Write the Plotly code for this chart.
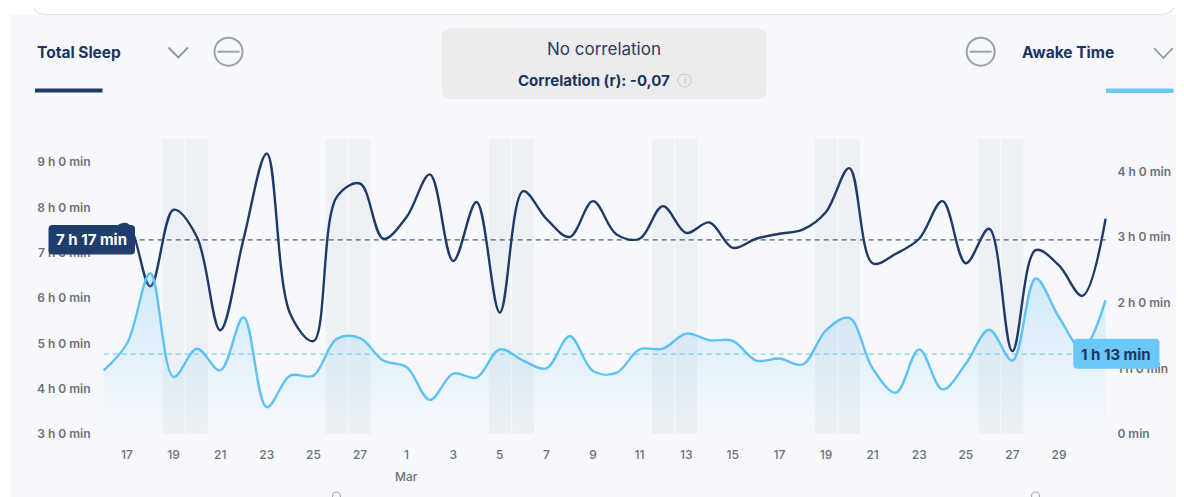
import plotly.graph_objects as go
import pandas as pd

PAGE_W, PAGE_H = 1184, 497
OFF = 8                      # browser body margin
W, H = PAGE_W - OFF, PAGE_H - OFF

# ---------------- data ----------------
dates = pd.date_range("2022-02-16", "2022-03-31", freq="D")

total_sleep_h = [7.35, 7.63, 6.26, 7.95, 7.35, 5.29, 7.30, 9.19, 5.66, 5.05,
                 8.23, 8.53, 7.31, 7.79, 8.73, 6.82, 8.12, 5.68, 8.36, 7.75,
                 7.35, 8.14, 7.41, 7.31, 8.03, 7.44, 7.67, 7.11, 7.31, 7.42,
                 7.51, 7.90, 8.87, 6.77, 6.98, 7.31, 8.14, 6.77, 7.53, 4.83,
                 7.06, 6.72, 6.05, 7.75]

awake_h = [0.97, 1.38, 2.45, 0.87, 1.30, 0.97, 1.78, 0.41, 0.89, 0.89,
           1.45, 1.46, 1.12, 1.02, 0.52, 0.92, 0.86, 1.29, 1.12, 1.00,
           1.49, 0.96, 0.93, 1.29, 1.30, 1.53, 1.43, 1.42, 1.12, 1.15,
           1.06, 1.58, 1.77, 1.00, 0.63, 1.29, 0.68, 1.07, 1.59, 1.12,
           2.37, 1.78, 1.30, 2.04]

weekend_days = ["2022-02-19", "2022-02-20", "2022-02-26", "2022-02-27",
                "2022-03-05", "2022-03-06", "2022-03-12", "2022-03-13",
                "2022-03-19", "2022-03-20", "2022-03-26", "2022-03-27"]

x_tick_dates = ["2022-02-17", "2022-02-19", "2022-02-21", "2022-02-23", "2022-02-25",
                "2022-02-27", "2022-03-01", "2022-03-03", "2022-03-05", "2022-03-07",
                "2022-03-09", "2022-03-11", "2022-03-13", "2022-03-15", "2022-03-17",
                "2022-03-19", "2022-03-21", "2022-03-23", "2022-03-25", "2022-03-27",
                "2022-03-29"]
x_tick_text = ["17", "19", "21", "23", "25", "27", "1", "3", "5", "7", "9",
               "11", "13", "15", "17", "19", "21", "23", "25", "27", "29"]

left_tick_vals = [3, 4, 5, 6, 7, 8, 9]
left_tick_text = ["3 h 0 min", "4 h 0 min", "5 h 0 min", "6 h 0 min",
                  "7 h 0 min", "8 h 0 min", "9 h 0 min"]
right_tick_vals = [0, 1, 2, 3, 4]
right_tick_text = ["0 min", "1 h 0 min", "2 h 0 min", "3 h 0 min", "4 h 0 min"]

mean_sleep_h = 7 + 17 / 60
mean_awake_h = 1 + 13 / 60
mean_sleep_label = "7 h 17 min"
mean_awake_label = "1 h 13 min"
correlation_text = "Correlation (r): -0,07"

# ---------------- styling / layout helpers (page pixel coords) ----------------
NAVY = "#1f3a68"
LIGHT = "#5ec2f6"
BG = "#f6f8fb"
TICK = "#6c7079"
FONT = "Inter"

PLOT_L, PLOT_R, PLOT_T, PLOT_B = 100, 1110, 139, 434
PW = PLOT_R - PLOT_L
PH = PLOT_B - PLOT_T
PX_PER_DAY = 23.3
PX_PER_H_L = 45.3
PX_PER_H_R = 65.6


def fx(x):
    return (x - PLOT_L) / PW


def fy(y):
    return (PLOT_B - y) / PH


def rrect(x0, y0, x1, y1, r):
    return (f"M{fx(x0 + r)},{fy(y0)} L{fx(x1 - r)},{fy(y0)} "
            f"Q{fx(x1)},{fy(y0)} {fx(x1)},{fy(y0 + r)} L{fx(x1)},{fy(y1 - r)} "
            f"Q{fx(x1)},{fy(y1)} {fx(x1 - r)},{fy(y1)} L{fx(x0 + r)},{fy(y1)} "
            f"Q{fx(x0)},{fy(y1)} {fx(x0)},{fy(y1 - r)} L{fx(x0)},{fy(y0 + r)} "
            f"Q{fx(x0)},{fy(y0)} {fx(x0 + r)},{fy(y0)} Z")


x_start = dates[0] - pd.Timedelta(days=3.7 / PX_PER_DAY)
x_end = x_start + pd.Timedelta(days=PW / PX_PER_DAY)
yl_range = [3, 3 + PH / PX_PER_H_L]
yr_range = [0, PH / PX_PER_H_R]

fig = go.Figure()

fig.add_trace(go.Scatter(
    x=dates, y=awake_h, yaxis="y2", mode="lines",
    line=dict(color=LIGHT, width=2.4, shape="spline", smoothing=1.0),
    fill="tozeroy",
    fillgradient=dict(type="vertical",
                      colorscale=[[0, "rgba(94,194,246,0.0)"],
                                  [1, "rgba(94,194,246,0.25)"]]),
    hoverinfo="skip", showlegend=False))

fig.add_trace(go.Scatter(
    x=dates, y=total_sleep_h, yaxis="y", mode="lines",
    line=dict(color=NAVY, width=2.4, shape="spline", smoothing=1.0),
    hoverinfo="skip", showlegend=False))

shapes = []
# weekend bands
for d in weekend_days:
    c = pd.Timestamp(d)
    shapes.append(dict(type="rect", xref="x", yref="paper",
                       x0=c - pd.Timedelta(hours=11.2), x1=c + pd.Timedelta(hours=11.2),
                       y0=0, y1=1, fillcolor="#edf0f4", line=dict(width=0), layer="below"))
# mean lines
shapes.append(dict(type="line", xref="x", yref="y", x0=dates[0], x1=dates[-1],
                   y0=mean_sleep_h, y1=mean_sleep_h,
                   line=dict(color="#4d5c78", width=1.3, dash="5px,4px"), layer="below"))
shapes.append(dict(type="line", xref="x", yref="y2", x0=dates[0], x1=dates[-1],
                   y0=mean_awake_h, y1=mean_awake_h,
                   line=dict(color="#7fcff6", width=1.3, dash="5px,4px"), layer="below"))

# top white strip & card edge, left white strip
shapes.append(dict(type="rect", xref="paper", yref="paper", x0=fx(0), x1=fx(PAGE_W + 5),
                   y0=fy(14.5), y1=fy(0), fillcolor="white", line=dict(width=0)))
shapes.append(dict(type="rect", xref="paper", yref="paper", x0=fx(0), x1=fx(10),
                   y0=fy(PAGE_H + 5), y1=fy(0), fillcolor="white", line=dict(width=0)))
shapes.append(dict(type="path", xref="paper", yref="paper",
                   path=f"M{fx(34)},{fy(8)} Q{fx(36)},{fy(14.5)} {fx(46)},{fy(14.5)} "
                        f"L{fx(1160)},{fy(14.5)} Q{fx(1170)},{fy(14.5)} {fx(1174)},{fy(8)}",
                   line=dict(color="#dfe3e8", width=1.2)))

# header: left
shapes.append(dict(type="path", xref="paper", yref="paper",
                   path=f"M{fx(168.5)},{fy(47.5)} L{fx(178.3)},{fy(57.5)} L{fx(188)},{fy(47.5)}",
                   line=dict(color="#8c96a3", width=1.8)))
shapes.append(dict(type="circle", xref="paper", yref="paper",
                   x0=fx(214.5), x1=fx(242.5), y0=fy(65.7), y1=fy(37.7),
                   line=dict(color="#9aa2ad", width=2)))
shapes.append(dict(type="line", xref="paper", yref="paper",
                   x0=fx(217.5), x1=fx(239.5), y0=fy(51.7), y1=fy(51.7),
                   line=dict(color="#9aa2ad", width=2)))
shapes.append(dict(type="rect", xref="paper", yref="paper",
                   x0=fx(35), x1=fx(102.5), y0=fy(92.5), y1=fy(88.5),
                   fillcolor=NAVY, line=dict(width=0)))
# header: right
shapes.append(dict(type="circle", xref="paper", yref="paper",
                   x0=fx(966.7), x1=fx(994.7), y0=fy(65.7), y1=fy(37.7),
                   line=dict(color="#9aa2ad", width=2)))
shapes.append(dict(type="line", xref="paper", yref="paper",
                   x0=fx(969.7), x1=fx(991.7), y0=fy(51.7), y1=fy(51.7),
                   line=dict(color="#9aa2ad", width=2)))
shapes.append(dict(type="path", xref="paper", yref="paper",
                   path=f"M{fx(1154)},{fy(48)} L{fx(1163.4)},{fy(58)} L{fx(1172.8)},{fy(48)}",
                   line=dict(color="#8c96a3", width=1.8)))
shapes.append(dict(type="rect", xref="paper", yref="paper",
                   x0=fx(1106), x1=fx(1173.5), y0=fy(93), y1=fy(88.5),
                   fillcolor="#6cc8f7", line=dict(width=0)))
# correlation box
shapes.append(dict(type="path", xref="paper", yref="paper",
                   path=rrect(441.5, 28.3, 766.7, 99.3, 10),
                   fillcolor="#ececed", line=dict(width=0)))
shapes.append(dict(type="circle", xref="paper", yref="paper",
                   x0=fx(678), x1=fx(691), y0=fy(87), y1=fy(74),
                   line=dict(color="#c9cdd2", width=1.1)))

# mean label boxes
ys_px = PLOT_B - (mean_sleep_h - yl_range[0]) * PX_PER_H_L
ya_px = PLOT_B - (mean_awake_h - yr_range[0]) * PX_PER_H_R
shapes.append(dict(type="path", xref="paper", yref="paper",
                   path=rrect(48.5, ys_px - 15, 135, ys_px + 14.5, 4),
                   fillcolor="#1f3d6d", line=dict(width=0)))
shapes.append(dict(type="path", xref="paper", yref="paper",
                   path=rrect(1073.3, ya_px - 15.5, 1159.5, ya_px + 14.5, 4),
                   fillcolor="#6ac7f8", line=dict(width=0)))

# slider handles at bottom
for cx in (336.5, 1035.5):
    shapes.append(dict(type="circle", xref="paper", yref="paper",
                       x0=fx(cx - 4), x1=fx(cx + 4), y0=fy(500), y1=fy(492),
                       line=dict(color="#a3a9b1", width=1.1)))

annotations = [
    dict(text="Total Sleep", x=fx(35), y=fy(52), xanchor="left", yanchor="middle",
         font=dict(family=FONT, size=15.5, color="#1d3461", weight=700)),
    dict(text="Awake Time", x=fx(1020), y=fy(52), xanchor="left", yanchor="middle",
         font=dict(family=FONT, size=15.5, color="#1d3461", weight=700)),
    dict(text="No correlation", x=fx(604), y=fy(49), xanchor="center", yanchor="middle",
         font=dict(family=FONT, size=17, color="#2b3c5e", weight=400)),
    dict(text=correlation_text, x=fx(594), y=fy(80.5), xanchor="center", yanchor="middle",
         font=dict(family=FONT, size=15, color="#1d3461", weight=700)),
    dict(text="i", x=fx(684.5), y=fy(80.5), xanchor="center", yanchor="middle",
         font=dict(family=FONT, size=9, color="#c3c7cc", weight=600)),
    dict(text=mean_sleep_label, x=fx(91.8), y=fy(ys_px), xanchor="center", yanchor="middle",
         font=dict(family=FONT, size=15, color="white", weight=700)),
    dict(text=mean_awake_label, x=fx(1116.4), y=fy(ya_px), xanchor="center", yanchor="middle",
         font=dict(family=FONT, size=15, color="#1d3461", weight=700)),
    dict(text="Mar", x="2022-03-01", xref="x", y=fy(476.5), yref="paper",
         xanchor="center", yanchor="middle",
         font=dict(family=FONT, size=12, color=TICK, weight=500)),
]
for a in annotations:
    a.setdefault("xref", "paper")
    a.setdefault("yref", "paper")
    a["showarrow"] = False

tick_font = dict(family=FONT, size=12, color=TICK, weight=600)

fig.update_layout(
    width=W, height=H,
    margin=dict(l=PLOT_L - OFF, r=(OFF + W) - PLOT_R, t=PLOT_T - OFF,
                b=(OFF + H) - PLOT_B, autoexpand=False),
    paper_bgcolor=BG, plot_bgcolor="rgba(0,0,0,0)",
    showlegend=False, hovermode=False,
    xaxis=dict(type="date", range=[x_start, x_end], tickvals=x_tick_dates,
               ticktext=x_tick_text, showgrid=False, zeroline=False, showline=False,
               ticks="outside", ticklen=10, tickcolor="rgba(0,0,0,0)",
               tickfont=dict(family=FONT, size=12, color=TICK, weight=500)),
    yaxis=dict(range=yl_range, tickvals=left_tick_vals, ticktext=left_tick_text,
               showgrid=False, zeroline=False, showline=False,
               ticks="outside", ticklen=6, tickcolor="rgba(0,0,0,0)", tickfont=tick_font),
    yaxis2=dict(range=yr_range, tickvals=right_tick_vals, ticktext=right_tick_text,
                overlaying="y", side="right", showgrid=False, zeroline=False,
                showline=False, ticks="outside", ticklen=4,
                tickcolor="rgba(0,0,0,0)", tickfont=tick_font),
    shapes=shapes,
    annotations=annotations,
)

fig.write_html("out.html")
